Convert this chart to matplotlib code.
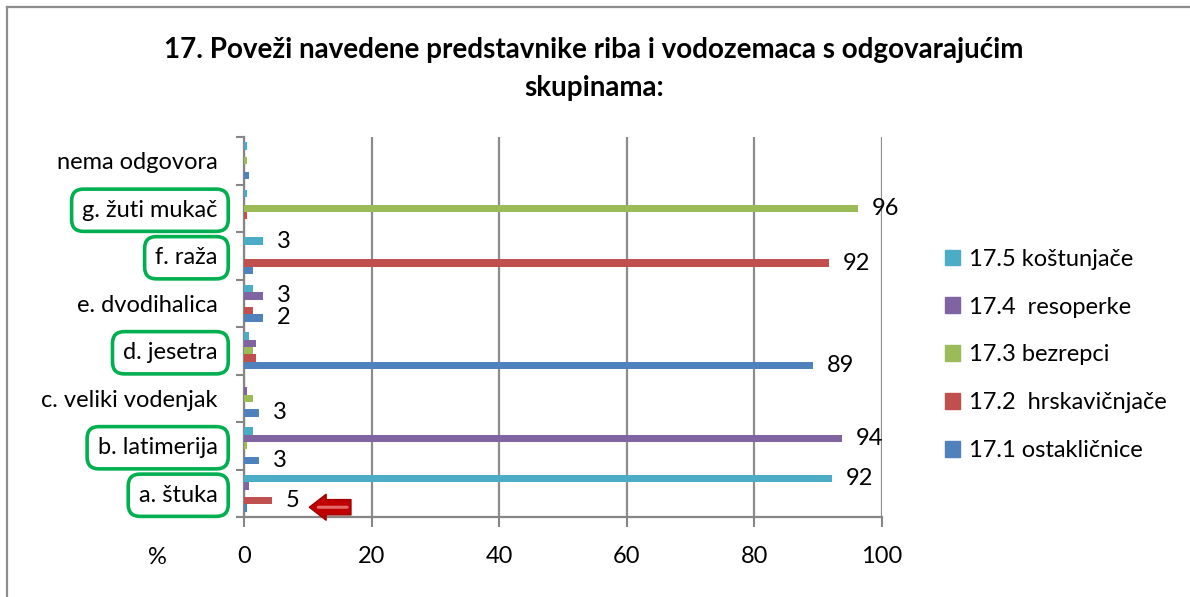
import matplotlib
matplotlib.use("Agg")
import matplotlib.pyplot as plt
from matplotlib.lines import Line2D
from matplotlib.patches import Patch
import numpy as np

plt.rcParams['font.family'] = ['Lato', 'DejaVu Sans']

# podaci
kategorije = ['a. štuka', 'b. latimerija', 'c. veliki vodenjak', 'd. jesetra',
              'e. dvodihalica', 'f. raža', 'g. žuti mukač', 'nema odgovora']
oznaceno = [True, True, False, True, False, True, True, False]

s171 = [0.5, 2.4, 2.4, 89.2, 2.9, 1.4, 0, 0.8]
s172 = [4.4, 0, 0, 1.9, 1.4, 91.7, 0.5, 0]
s173 = [0, 0.5, 1.4, 1.4, 0, 0, 96.2, 0.5]
s174 = [0.8, 93.7, 0.5, 1.9, 3.0, 0, 0, 0]
s175 = [92.2, 1.4, 0, 0.8, 1.4, 3.0, 0.5, 0.5]

lab171 = ['', '3', '3', '89', '2', '', '', '']
lab172 = ['5', '', '', '', '', '92', '', '']
lab173 = ['', '', '', '', '', '', '96', '']
lab174 = ['', '94', '', '', '3', '', '', '']
lab175 = ['92', '', '', '', '', '3', '', '']

nazivi = ['17.1 ostakličnice', '17.2  hrskavičnjače', '17.3 bezrepci',
          '17.4  resoperke', '17.5 koštunjače']
boje = ['#4F81BD', '#C0504D', '#9BBB59', '#8064A2', '#4BACC6']
x_ticks = [0, 20, 40, 60, 80, 100]

serije = [s171, s172, s173, s174, s175]
oznake = [lab171, lab172, lab173, lab174, lab175]

fig = plt.figure(figsize=(11.9, 5.97), dpi=100)
ax = fig.add_axes([244/1190, 80/597, 638/1190, 380/597])

y = np.arange(len(kategorije))
h = 0.155
fs = 17

for i, (vals, labs, c) in enumerate(zip(serije, oznake, boje)):
    pos = y + (i - 2) * h
    ax.barh(pos, vals, height=h, color=c, label=nazivi[i], zorder=3)
    for p, v, t in zip(pos, vals, labs):
        if t:
            ax.annotate(t, (v, p), xytext=(10, 0), textcoords='offset points',
                        va='center', ha='left', fontsize=fs, zorder=4)

# crvena strelica kod oznake "5"
ya = y[0] - 1.9 * h
ax.annotate('', xy=(s172[0] + 5.4, ya), xytext=(s172[0] + 12.8, ya),
            arrowprops=dict(arrowstyle='simple,head_length=0.55,head_width=0.85,tail_width=0.5',
                            mutation_scale=22, fc='#C00000', ec='#A00000', lw=1), zorder=5)
ax.annotate('', xy=(s172[0] + 6.8, ya), xytext=(s172[0] + 12.2, ya),
            arrowprops=dict(arrowstyle='-', color='#E46C6C', lw=2.2), zorder=6)

ax.set_xlim(0, 100)
ax.set_ylim(-0.5, len(kategorije) - 0.5)
ax.set_xticks(x_ticks)
ax.set_yticks(y)
ax.set_yticklabels(kategorije, fontsize=fs)
ax.set_yticks(np.arange(-0.5, len(kategorije)), minor=True)
ax.tick_params(axis='y', which='major', length=0, pad=19)
ax.tick_params(axis='y', which='minor', length=6, width=1.5, color='#868686')
ax.tick_params(axis='x', length=7, width=1.5, color='#868686', pad=14, labelsize=fs)
ax.grid(axis='x', color='#8c8c8c', lw=1.6, zorder=0)
for s in ['top', 'right']:
    ax.spines[s].set_visible(False)
for s in ['left', 'bottom']:
    ax.spines[s].set_color('#868686')
    ax.spines[s].set_linewidth(1.6)

for lbl, ok in zip(ax.get_yticklabels(), oznaceno):
    if ok:
        lbl.set_bbox(dict(boxstyle='round,pad=0.45,rounding_size=0.5', fc='none',
                          ec='#00B050', lw=2.6))

fig.text(157/1190, 1 - 557/597, '%', fontsize=fs, ha='center', va='center')

fig.text(594/1190, 1 - 37/597, '17. Poveži navedene predstavnike riba i vodozemaca s odgovarajućim\nskupinama:',
         fontsize=20, fontweight='bold', ha='center', va='top', linespacing=1.55)

ruke = [Patch(color=c) for c in boje][::-1]
fig.legend(ruke, nazivi[::-1], loc='center left', bbox_to_anchor=(924/1190, 1 - 355/597),
           frameon=False, fontsize=fs, handlelength=0.64, handleheight=0.64,
           handletextpad=0.35, labelspacing=1.14)

# okvir (vidljiv samo gore i lijevo)
fig.add_artist(Line2D([7/1190, 7/1190], [0, 1 - 7/597], color='#8c8c8c', lw=1.6))
fig.add_artist(Line2D([7/1190, 1], [1 - 7/597, 1 - 7/597], color='#8c8c8c', lw=1.6))

fig.savefig('out.png', dpi=100)
